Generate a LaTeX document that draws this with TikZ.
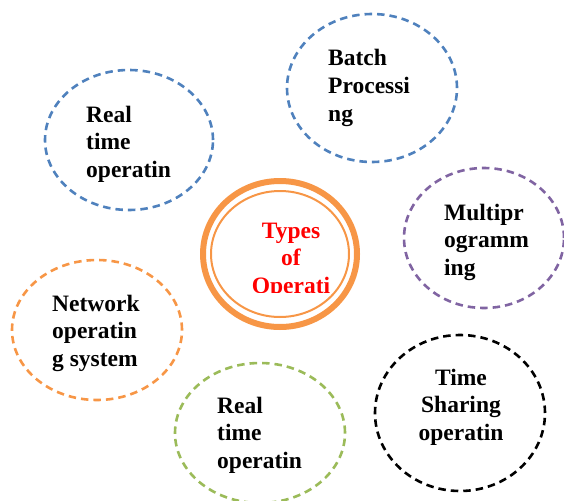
\documentclass[tikz,border=0pt]{standalone}
\usepackage{fontspec}
\setmainfont{Liberation Serif}
\usetikzlibrary{shapes.geometric, positioning}
\definecolor{blueline}{RGB}{79,129,189}
\definecolor{purpleline}{RGB}{128,100,162}
\definecolor{orangeline}{RGB}{247,150,70}
\definecolor{greenline}{RGB}{155,187,89}
\tikzset{bubble/.style={ellipse, inner sep=0pt, line width=2.6pt, dash pattern=on 7.5pt off 5pt},
  label/.style={inner sep=0pt, align=left, anchor=base west, font=\bfseries\fontsize{23.5}{27.7}\selectfont}}

\begin{document}
\begin{tikzpicture}[x=1pt, y=-1pt]
\useasboundingbox (0,0) rectangle (564,500);

\node[bubble, draw=blueline, minimum width=170pt, minimum height=148pt] (batch) at (372,88) {};
\node[bubble, draw=blueline, minimum width=168pt, minimum height=140pt] (realtop) at (129,140) {};
\node[bubble, draw=purpleline, minimum width=160pt, minimum height=140pt] (multi) at (484,238) {};
\node[bubble, draw=orangeline, minimum width=170pt, minimum height=140pt] (network) at (97,330) {};
\node[bubble, draw=greenline, minimum width=170pt, minimum height=140pt] (realbot) at (260,433) {};
\node[bubble, draw=black, minimum width=170pt, minimum height=156pt] (share) at (460,413) {};

\node[ellipse, draw=orangeline, line width=6pt, minimum width=154pt, minimum height=146pt] (types) at (280,254) {};
\node[ellipse, draw=orangeline, line width=2pt, minimum width=138pt, minimum height=126pt] (typesin) at (280,254) {};

% last baselines
\node[label] (batchtxt) at (328,121.4) {Batch\\Processi\\ng};
\node[label] (realtoptxt) at (86,177.4) {Real\\time\\operatin};
\node[label] (multitxt) at (444,275.4) {Multipr\\ogramm\\ing};
\node[label] (networktxt) at (52,366.4) {Network\\operatin\\g system};
\node[label] (realbottxt) at (217,468.4) {Real\\time\\operatin};
\node[label, align=center, anchor=base] (sharetxt) at (461,440.4) {Time\\Sharing\\operatin};

\begin{scope}
\clip (200,200) rectangle (360,292);
\node[label, align=center, anchor=base, text=red] (typestxt) at (291,293.4) {Types\\of\\Operati};
\end{scope}

\end{tikzpicture}
\end{document}
